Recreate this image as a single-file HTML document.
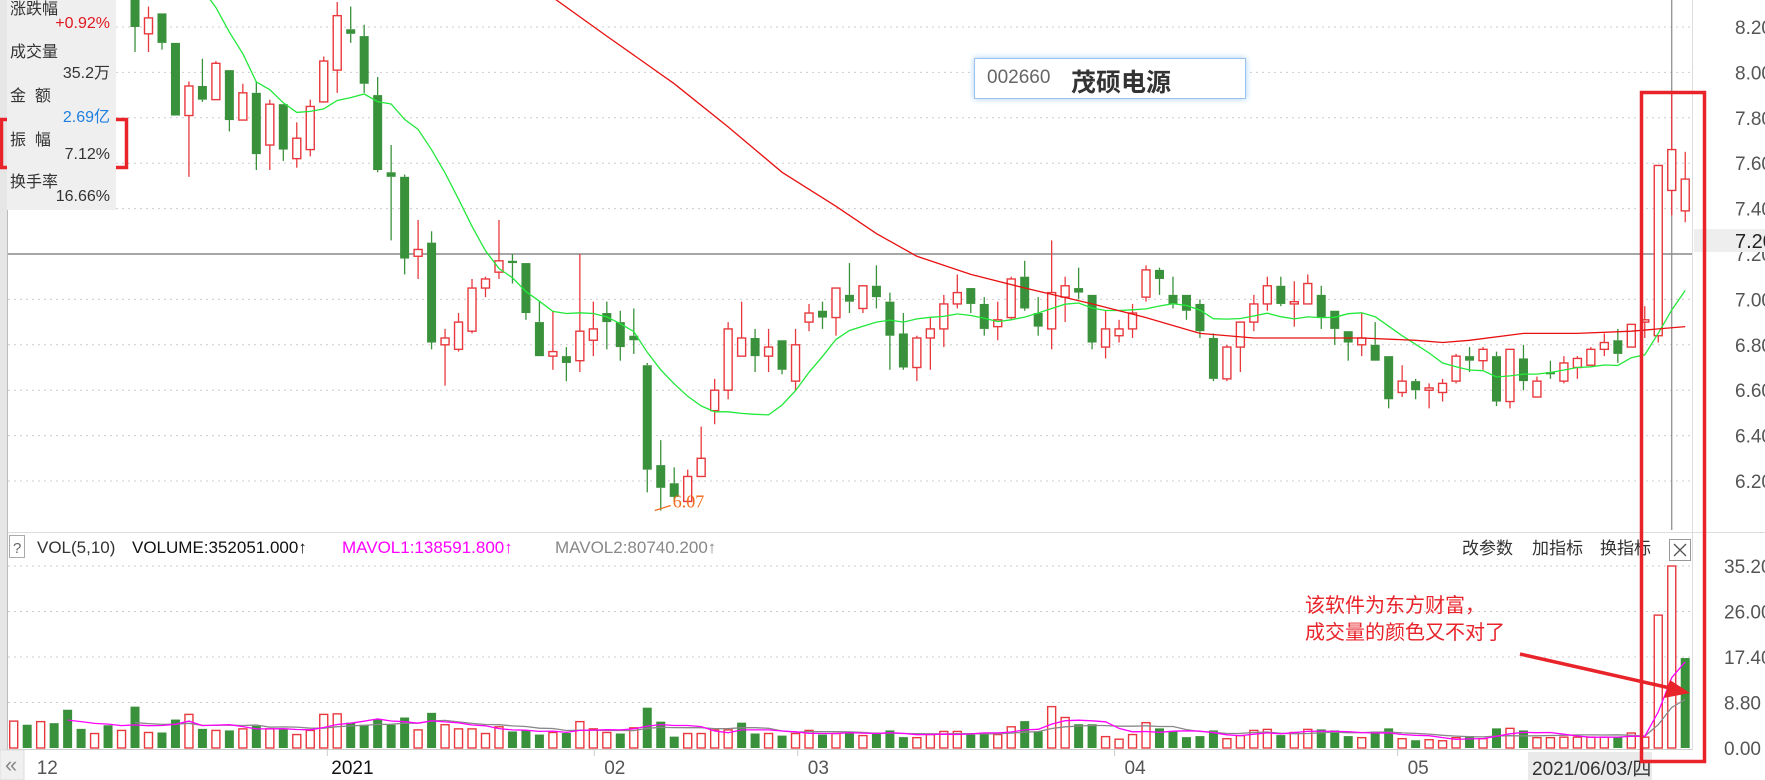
<!DOCTYPE html>
<html><head><meta charset="utf-8">
<style>
html,body{margin:0;padding:0;background:#fff;width:1765px;height:780px;overflow:hidden;font-family:"Liberation Sans","Noto Sans CJK SC",sans-serif}
#root{position:relative;width:1765px;height:780px}
svg{position:absolute;left:0;top:0}
.info{position:absolute;left:7px;top:0;width:109px;height:210px;background:#efefef;font-size:16px;color:#333}
.info div{position:absolute;white-space:nowrap}
.r{right:6px;text-align:right}
.title{position:absolute;left:974px;top:58px;width:272px;height:41px;border:1px solid #9cc3f0;box-shadow:0 0 6px #a8cdf5;background:#fff;box-sizing:border-box}
</style></head><body>
<div id="root">
<svg id="chart" width="1765" height="780"></svg>
<div class="info">
 <div style="left:3px;top:-5px">涨跌幅</div>
 <div class="r" style="top:15px;color:#e0181e">+0.92%</div>
 <div style="left:3px;top:38px">成交量</div>
 <div class="r" style="top:59px">35.2万</div>
 <div style="left:3px;top:82px">金&nbsp;&nbsp;额</div>
 <div class="r" style="top:103px;color:#1e7fe0">2.69亿</div>
 <div style="left:3px;top:126px">振&nbsp;&nbsp;幅</div>
 <div class="r" style="top:146px">7.12%</div>
 <div style="left:3px;top:168px">换手率</div>
 <div class="r" style="top:188px">16.66%</div>
</div>
<div class="title">
 <span style="position:absolute;left:12px;top:8px;font-size:19px;color:#666">002660</span>
 <span style="position:absolute;left:96px;top:4px;font-size:25px;color:#333;font-weight:bold">茂硕电源</span>
</div>
</div>
<script>
const opens =[8.95,8.92,8.90,8.93,8.90,8.88,8.86,8.88,8.86, 8.34,8.17,8.26,8.13,7.81,7.94,7.88,8.01,7.79,7.91,7.68,7.86,7.62,7.66,7.87,8.01,8.19,8.16,7.90,7.56,7.54,7.19,7.25,6.80,6.78,6.86,7.05,7.12,7.17,7.16,6.90,6.75,6.75,6.73,6.82,6.94,6.90,6.84,6.71,6.27,6.19,6.11,6.22,6.51,6.60,6.75,6.83,6.75,6.82,6.64,6.90,6.95,6.92,7.02,6.96,7.06,6.99,6.85,6.70,6.83,6.87,6.98,7.05,6.98,6.88,6.92,7.10,6.94,6.87,7.01,7.05,7.02,6.79,6.84,6.87,7.01,7.13,7.02,7.02,6.98,6.83,6.65,6.79,6.90,6.98,7.06,6.98,6.98,7.02,6.95,6.86,6.80,6.80,6.75,6.59,6.64,6.60,6.59,6.64,6.75,6.73,6.75,6.55,6.74,6.57,6.68,6.64,6.70,6.71,6.78,6.82,6.79,6.90,6.84,7.48,7.39];
const highs =[9.00,8.98,8.96,8.97,8.95,8.92,8.92,8.92,8.90, 8.36,8.29,8.26,8.13,7.96,8.06,8.05,8.01,7.95,7.96,7.88,7.86,7.78,7.88,8.07,8.31,8.29,8.21,7.98,7.68,7.55,7.35,7.30,6.87,6.94,7.09,7.10,7.35,7.20,7.16,6.99,6.95,6.79,7.20,6.99,6.99,6.95,6.96,6.72,6.38,6.26,6.25,6.44,6.65,6.90,6.99,6.87,6.87,6.82,6.87,6.98,6.99,7.05,7.16,7.06,7.15,7.03,6.94,6.84,6.92,7.02,7.11,7.05,7.01,6.99,7.10,7.17,7.01,7.26,7.10,7.14,7.02,6.95,6.91,6.98,7.15,7.14,7.10,7.02,7.00,6.85,6.80,6.90,7.02,7.10,7.10,7.08,7.11,7.06,6.95,6.86,6.94,6.90,6.75,6.71,6.65,6.63,6.65,6.76,6.79,6.79,6.77,6.78,6.80,6.66,6.73,6.75,6.75,6.79,6.85,6.87,6.89,6.97,7.59,7.91,7.65];
const lows  =[8.88,8.86,8.85,8.86,8.84,8.83,8.82,8.83,8.82, 8.09,8.09,8.10,7.81,7.54,7.87,7.88,7.74,7.79,7.57,7.57,7.61,7.58,7.63,7.87,7.91,8.13,7.91,7.56,7.26,7.11,7.09,6.78,6.62,6.77,6.85,7.01,7.09,7.07,6.91,6.75,6.69,6.64,6.68,6.75,6.78,6.73,6.76,6.15,6.07,6.11,6.11,6.22,6.45,6.56,6.75,6.68,6.68,6.67,6.60,6.86,6.87,6.84,6.94,6.94,6.96,6.69,6.69,6.64,6.69,6.79,6.96,6.94,6.84,6.82,6.91,6.95,6.84,6.78,6.90,7.00,6.78,6.74,6.81,6.83,6.99,7.02,6.96,6.91,6.83,6.64,6.64,6.68,6.86,6.95,6.97,6.88,6.98,6.87,6.80,6.73,6.75,6.73,6.52,6.57,6.56,6.52,6.55,6.63,6.68,6.69,6.53,6.52,6.60,6.57,6.65,6.63,6.65,6.71,6.75,6.72,6.79,6.83,6.81,7.37,7.34];
const closes=[8.92,8.90,8.93,8.90,8.88,8.86,8.88,8.86,8.88, 8.20,8.24,8.13,7.81,7.94,7.88,8.04,7.79,7.91,7.64,7.86,7.66,7.71,7.85,8.05,8.25,8.17,7.95,7.57,7.54,7.18,7.22,6.81,6.83,6.90,7.05,7.09,7.17,7.16,6.94,6.75,6.77,6.72,6.86,6.87,6.90,6.79,6.82,6.25,6.17,6.13,6.22,6.30,6.60,6.87,6.83,6.75,6.79,6.69,6.80,6.94,6.92,7.05,6.99,7.06,7.01,6.84,6.70,6.83,6.87,6.98,7.03,6.98,6.87,6.91,7.09,6.96,6.88,7.03,7.06,7.03,6.81,6.87,6.87,6.94,7.13,7.09,6.98,6.95,6.86,6.65,6.79,6.90,6.98,7.06,6.98,6.99,7.07,6.92,6.87,6.81,6.83,6.73,6.56,6.64,6.60,6.61,6.63,6.75,6.73,6.78,6.55,6.78,6.64,6.64,6.67,6.72,6.74,6.78,6.81,6.76,6.89,6.91,7.59,7.66,7.53];
const volumes=[5.2,4.5,5.1,4.8,7.4,3.7,2.8,4.4,3.4,8.0,3.0,3.0,5.5,6.5,3.7,3.4,3.4,3.7,4.3,3.7,3.6,2.6,3.4,6.5,6.6,4.9,4.5,5.6,4.5,5.9,3.5,6.8,4.5,3.7,3.7,2.8,4.1,3.2,3.4,2.6,3.0,2.9,5.1,3.7,3.0,2.8,3.9,7.8,5.1,2.2,2.8,2.8,3.5,3.5,4.9,2.8,2.8,2.4,2.8,3.4,2.6,2.8,3.2,2.4,3.0,3.4,2.1,2.0,2.6,3.2,3.2,2.6,3.0,2.6,4.1,5.2,3.2,8.0,5.9,4.6,4.6,2.2,1.7,2.6,4.9,3.8,3.2,2.1,2.3,3.4,1.8,2.4,3.4,3.6,2.5,3.0,3.6,3.6,3.4,2.3,2.0,3.2,3.8,1.8,1.5,1.6,1.4,2.0,2.3,1.8,3.8,3.8,3.4,2.0,2.0,2.1,2.1,2.1,2.1,2.1,2.9,2.1,25.7,35.2,17.4];
const longMaIdx=[40,44,49,53,57,61,64,67,71,75,80,84,88,92,96,100,104,106,108,112,116,120,124];
const longMaVal=[8.33,8.16,7.95,7.76,7.56,7.41,7.29,7.19,7.11,7.05,6.98,6.92,6.85,6.83,6.83,6.83,6.82,6.81,6.82,6.85,6.85,6.86,6.88];
const priceTicks=["8.20","8.00","7.80","7.60","7.40","7.20","7.00","6.80","6.60","6.40","6.20"];
const volTicks=["35.20","26.00","17.40","8.80","0.00"];
const volTickVals=[35.2,26.4,17.6,8.8,0];
const monthLabels=["12","2021","02","03","04","05"];
const monthIdx=[2.3,24.6,44.4,59.5,83,104];

const NS="http://www.w3.org/2000/svg";
const svg=document.getElementById('chart');
const X0=13.7, DX=13.48;
const xOf=i=>X0+DX*i;
const yP=p=>27+(8.20-p)*227;
const yV=v=>748-v*5.17;
function mk(tag,attrs,parent){const e=document.createElementNS(NS,tag);for(const k in attrs)e.setAttribute(k,attrs[k]);(parent||svg).appendChild(e);return e;}

// frame
let e;
e=mk('rect',{x:0,y:0,width:7,height:780,fill:'#e6e6e6'});


e=mk('line',{x1:7.5,y1:0,x2:7.5,y2:750,stroke:'#bbb'});


e=mk('line',{x1:1692.5,y1:0,x2:1692.5,y2:750,stroke:'#ddd'});


e=mk('line',{x1:8,y1:532.5,x2:1765,y2:532.5,stroke:'#ddd'});


e=mk('line',{x1:8,y1:749.5,x2:1692,y2:749.5,stroke:'#ccc'});



// price grid and labels
priceTicks.forEach((t)=>{
  const y=yP(parseFloat(t));
  const g=mk('line',{x1:8,y1:y,x2:1692,y2:y,stroke:'#ccc','stroke-dasharray':'2,4'});
  
  
  const tx=mk('text',{x:1735,y:y+7,'font-size':19,fill:'#555','font-family':'Liberation Sans, sans-serif'});
  tx.textContent=t;
  
  
});
// volume grid and labels
volTicks.forEach((t,k)=>{
  const y=yV(volTickVals[k]);
  if(k<4){const g=mk('line',{x1:8,y1:y,x2:1692,y2:y,stroke:'#ccc','stroke-dasharray':'2,4'});
  
  }
  const tx=mk('text',{x:1724,y:y+7,'font-size':19,fill:'#555','font-family':'Liberation Sans, sans-serif'});
  tx.textContent=t;
  
  
});

// crosshair
e=mk('line',{x1:8,y1:yP(7.20),x2:1692,y2:yP(7.20),stroke:'#888','stroke-width':1.5});


e=mk('line',{x1:xOf(123),y1:0,x2:xOf(123),y2:530,stroke:'#888','stroke-width':1.2});


e=mk('rect',{x:1694,y:229,width:71,height:23,fill:'#eee'});


e=mk('text',{x:1735,y:248,'font-size':20,fill:'#222','font-family':'Liberation Sans, sans-serif'});
e.textContent='7.20';



// clip for price panel
const defs=mk('defs',{});
const cp=mk('clipPath',{id:'pclip'},defs);
mk('rect',{x:8,y:0,width:1684,height:531},cp);
const pg=mk('g',{'clip-path':'url(#pclip)'});



// candles
for(let i=0;i<closes.length;i++){
  const up=closes[i]>=opens[i];
  const col=up?'#e8383d':'#3a913b';
  const x=xOf(i);
  const g=mk('g',{},pg);
  
  
  const top=yP(Math.max(opens[i],closes[i])), bot=yP(Math.min(opens[i],closes[i]));
  mk('line',{x1:x,y1:yP(highs[i]),x2:x,y2:top,stroke:col,'stroke-width':1.3},g);
  mk('line',{x1:x,y1:bot,x2:x,y2:yP(lows[i]),stroke:col,'stroke-width':1.3},g);
  const h=Math.max(bot-top,1.5);
  if(up) mk('rect',{x:x-4,y:top,width:8,height:h,fill:'#fff',stroke:col,'stroke-width':1.4},g);
  else mk('rect',{x:x-4.5,y:top,width:9,height:h,fill:col},g);
}
// MA10 green
let pts=[];
for(let i=9;i<closes.length;i++){let s=0;for(let k=i-9;k<=i;k++)s+=closes[k];pts.push(xOf(i).toFixed(1)+','+yP(s/10).toFixed(1));}
e=mk('polyline',{points:pts.join(' '),fill:'none',stroke:'#22e83a','stroke-width':1.3},pg);


pts=longMaIdx.map((ix,k)=>xOf(ix).toFixed(1)+','+yP(longMaVal[k]).toFixed(1));
e=mk('polyline',{points:pts.join(' '),fill:'none',stroke:'#e81010','stroke-width':1.3},pg);



// low marker
let lowI=0;for(let i=0;i<lows.length;i++)if(lows[i]<lows[lowI])lowI=i;
e=mk('line',{x1:xOf(lowI)+10,y1:yP(lows[lowI])-5,x2:xOf(lowI)-6,y2:yP(lows[lowI]),stroke:'#f26a1b','stroke-width':1.2});


e=mk('text',{x:xOf(lowI)+12,y:yP(lows[lowI])-3,'font-size':18,fill:'#f26a1b','font-family':'Liberation Serif, serif'});
e.textContent=lows[lowI].toFixed(2);



// volume bars
for(let i=0;i<volumes.length;i++){
  const up=i===0?true:closes[i]>=closes[i-1];
  const x=xOf(i),y=yV(volumes[i]);
  const r=up?mk('rect',{x:x-4,y:y,width:8,height:748-y,fill:'#fff',stroke:'#e8383d','stroke-width':1.4}):mk('rect',{x:x-4.5,y:y,width:9,height:748-y,fill:'#3a913b'});
  
  
}
function vma(n){const p=[];for(let i=n-1;i<volumes.length;i++){let s=0;for(let k=i-n+1;k<=i;k++)s+=volumes[k];p.push(xOf(i).toFixed(1)+','+yV(s/n).toFixed(1));}return p.join(' ');}
e=mk('polyline',{points:vma(10),fill:'none',stroke:'#888','stroke-width':1.3});


e=mk('polyline',{points:vma(5),fill:'none',stroke:'#f0f','stroke-width':1.3});



// volume header
e=mk('rect',{x:9.5,y:535.5,width:15,height:22,fill:'#fff',stroke:'#aaa'});


function txt(x,y,s,fill,size,name,inter){const t=mk('text',{x:x,y:y,'font-size':size,fill:fill,'font-family':'Liberation Sans, Noto Sans CJK SC, sans-serif'});t.textContent=s;return t;}
txt(13,553,'?','#666',15,'help-icon','true');
txt(37,553,'VOL(5,10)','#333',17,'indicator-name','false');
txt(132,553,'VOLUME:352051.000↑','#111',17,'volume-readout','false');
txt(342,553,'MAVOL1:138591.800↑','#f0f',17,'mavol1-readout','false');
txt(555,553,'MAVOL2:80740.200↑','#888',17,'mavol2-readout','false');
txt(1462,554,'改参数','#333',17,'edit-params-button','true');
txt(1532,554,'加指标','#333',17,'add-indicator-button','true');
txt(1600,554,'换指标','#333',17,'switch-indicator-button','true');
e=mk('rect',{x:1669.5,y:539.5,width:21,height:21,fill:'#fff',stroke:'#999'});


mk('path',{d:'M1674 544 L1686 556 M1686 544 L1674 556',stroke:'#555','stroke-width':1.3});

// date axis
monthLabels.forEach((m,k)=>{
  const x=xOf(monthIdx[k]);
  const t=txt(x-(m.length>2?14:8),774,m,k===1?'#111':'#555',19,'month-label','false');
  if(k>0){const tk=mk('line',{x1:x-18,y1:749,x2:x-18,y2:756,stroke:'#ccc'});}
});
e=mk('rect',{x:0,y:750,width:24,height:30,fill:'#f0f0f0',stroke:'#ddd'});


txt(5,772,'«','#888',22,'scroll-left-icon','true');
e=mk('rect',{x:1528,y:752,width:124,height:28,fill:'#eaeaea'});


txt(1532,775,'2021/06/03/四','#333',19,'crosshair-date-label','false');

// annotations
e=mk('rect',{x:1.5,y:119.5,width:125,height:48,fill:'none',stroke:'#e8232a','stroke-width':3.5});


e=mk('rect',{x:1641.5,y:92.5,width:63,height:669,fill:'none',stroke:'#e8232a','stroke-width':3.5});


txt(1305,612,'该软件为东方财富，','#e8232a',20,'annotation-line-1','false');
txt(1305,639,'成交量的颜色又不对了','#e8232a',20,'annotation-line-2','false');
e=mk('line',{x1:1520,y1:654,x2:1670,y2:688,stroke:'#e8232a','stroke-width':3.5});


e=mk('polygon',{points:'1690,693 1664,698 1670,680',fill:'#e8232a'});


</script>
</body></html>
